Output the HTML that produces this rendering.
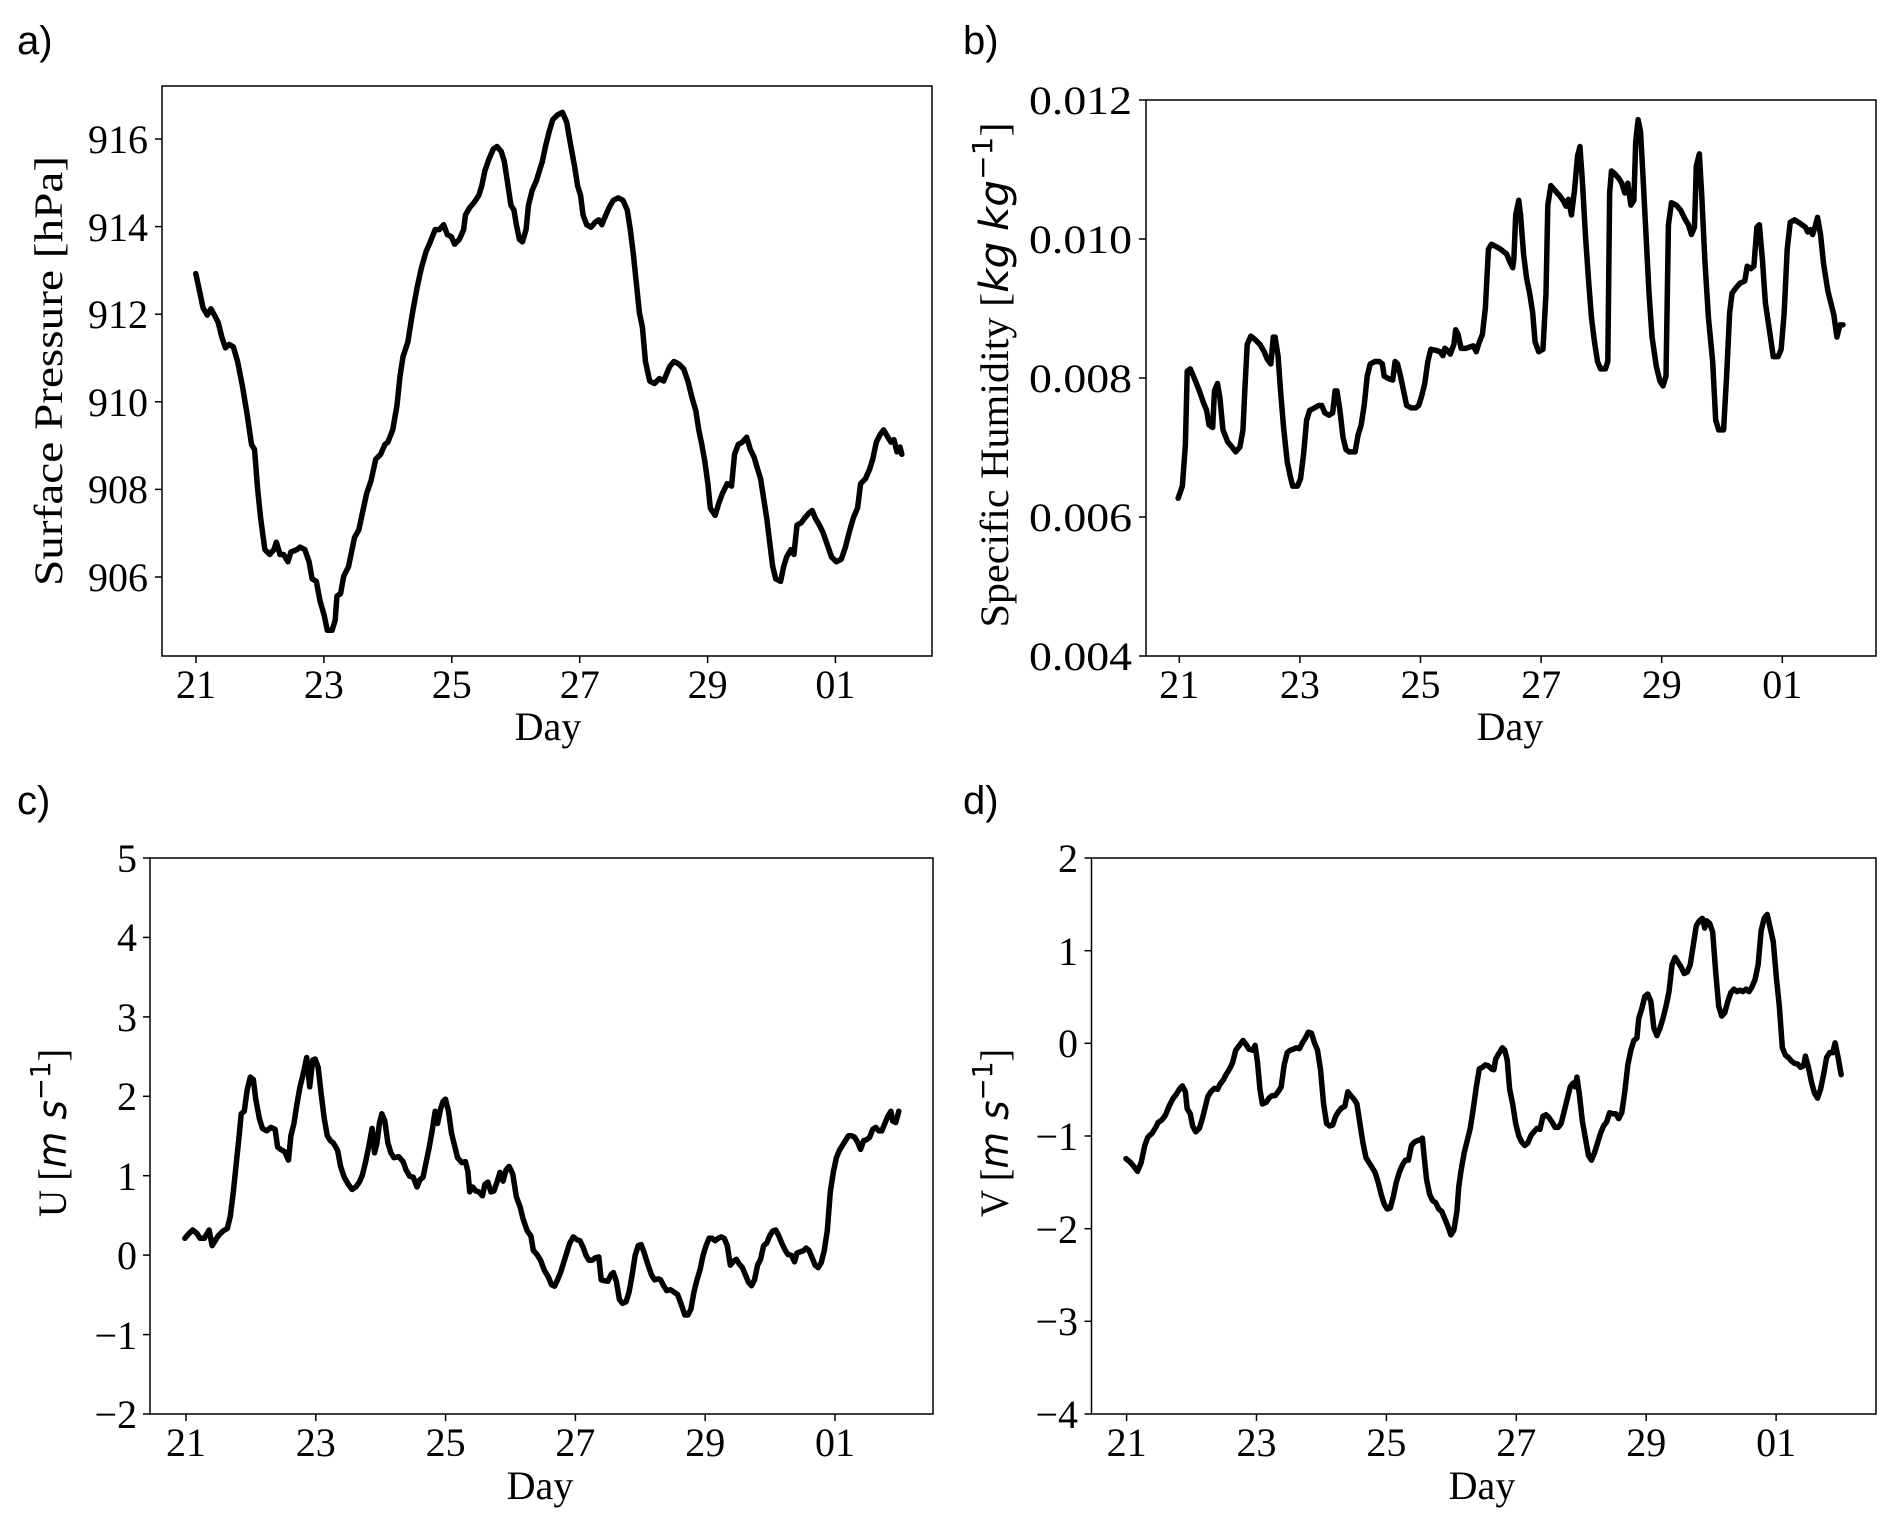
<!DOCTYPE html>
<html><head><meta charset="utf-8"><style>
html,body{margin:0;padding:0;background:#fff}
svg{display:block}
.t{font-family:"Liberation Serif",serif;font-size:40px;fill:#000}
.p{font-family:"Liberation Sans",sans-serif;font-size:40px;fill:#000}
.d{fill:none;stroke:#000;stroke-width:5.5;stroke-linejoin:round;stroke-linecap:round}
.f{fill:none;stroke:#000;stroke-width:1.5}
.k{stroke:#000;stroke-width:1.5}
</style></head><body>
<svg width="1892" height="1525" viewBox="0 0 1892 1525" xmlns="http://www.w3.org/2000/svg">
<!-- Panel a -->
<text class="p" x="17" y="54">a)</text>
<rect class="f" x="162" y="86" width="770" height="570"/>
<g class="k">
<line x1="196" y1="656" x2="196" y2="663"/><line x1="323.9" y1="656" x2="323.9" y2="663"/><line x1="451.8" y1="656" x2="451.8" y2="663"/><line x1="579.7" y1="656" x2="579.7" y2="663"/><line x1="707.6" y1="656" x2="707.6" y2="663"/><line x1="835.4" y1="656" x2="835.4" y2="663"/>
<line x1="155" y1="577" x2="162" y2="577"/><line x1="155" y1="489.4" x2="162" y2="489.4"/><line x1="155" y1="401.8" x2="162" y2="401.8"/><line x1="155" y1="314.2" x2="162" y2="314.2"/><line x1="155" y1="226.6" x2="162" y2="226.6"/><line x1="155" y1="139" x2="162" y2="139"/>
</g>
<g class="t" text-anchor="middle">
<text x="196" y="698">21</text><text x="323.9" y="698">23</text><text x="451.8" y="698">25</text><text x="579.7" y="698">27</text><text x="707.6" y="698">29</text><text x="835.4" y="698">01</text>
<text x="548" y="740">Day</text>
</g>
<g class="t" text-anchor="end">
<text x="148" y="591">906</text><text x="148" y="503">908</text><text x="148" y="416">910</text><text x="148" y="328">912</text><text x="148" y="241">914</text><text x="148" y="153">916</text>
</g>
<text class="t" text-anchor="middle" transform="translate(62,371) rotate(-90)" textLength="430" lengthAdjust="spacingAndGlyphs">Surface Pressure [hPa]</text>
<g transform="translate(0,0) scale(0.60606,0.48852)">
<polyline class="d" vector-effect="non-scaling-stroke" points="323,560 330,600 335,630 342,645 348,632 355,648 360,660 366,690 372,712 378,705 385,710 392,740 400,790 408,850 415,910 420,920 425,1000 430,1060 437,1125 445,1135 452,1125 456,1110 462,1135 468,1135 475,1150 480,1130 490,1125 495,1120 503,1125 510,1150 515,1185 522,1190 528,1230 535,1260 540,1290 548,1290 553,1270 556,1220 562,1215 567,1180 575,1160 580,1130 585,1100 592,1085 598,1050 605,1010 612,985 620,940 628,930 635,910 640,905 648,880 655,830 660,770 665,730 673,700 680,645 688,590 695,550 703,515 710,495 718,470 725,470 732,460 738,480 745,485 750,500 758,490 765,470 768,440 775,425 782,415 790,400 795,380 800,350 807,325 814,305 820,300 827,310 832,330 837,370 843,420 848,430 852,460 857,490 862,495 868,470 872,420 878,390 885,370 890,350 895,330 900,300 906,270 912,245 920,235 928,230 935,250 942,300 948,340 953,380 958,400 962,440 968,460 975,465 982,455 988,450 993,460 998,445 1005,425 1012,410 1020,405 1028,410 1035,430 1040,470 1045,520 1050,580 1055,640 1060,670 1065,740 1072,780 1080,785 1088,775 1095,780 1100,765 1105,750 1112,740 1120,745 1128,755 1135,780 1142,815 1148,840 1153,880 1158,910 1163,945 1168,990 1172,1040 1180,1055 1186,1030 1192,1010 1200,990 1207,995 1212,930 1218,910 1225,905 1232,895 1238,920 1244,935 1250,960 1255,980 1260,1020 1265,1060 1270,1110 1275,1160 1280,1185 1288,1190 1293,1160 1298,1140 1305,1125 1310,1135 1315,1075 1322,1070 1328,1060 1335,1050 1340,1045 1345,1060 1352,1075 1358,1090 1365,1115 1372,1140 1380,1150 1388,1145 1395,1120 1400,1095 1408,1060 1415,1040 1420,990 1428,980 1435,960 1440,940 1446,905 1452,890 1458,880 1465,895 1470,905 1475,900 1480,925 1485,915 1488,930"/>
</g>

<!-- Panel b -->
<text class="p" x="963" y="54">b)</text>
<rect class="f" x="1146" y="100" width="730" height="556"/>
<g class="k">
<line x1="1179.3" y1="656" x2="1179.3" y2="663"/><line x1="1299.9" y1="656" x2="1299.9" y2="663"/><line x1="1420.5" y1="656" x2="1420.5" y2="663"/><line x1="1541.1" y1="656" x2="1541.1" y2="663"/><line x1="1661.7" y1="656" x2="1661.7" y2="663"/><line x1="1782.3" y1="656" x2="1782.3" y2="663"/>
<line x1="1139" y1="100" x2="1146" y2="100"/><line x1="1139" y1="239" x2="1146" y2="239"/><line x1="1139" y1="378" x2="1146" y2="378"/><line x1="1139" y1="517" x2="1146" y2="517"/><line x1="1139" y1="656" x2="1146" y2="656"/>
</g>
<g class="t" text-anchor="middle">
<text x="1179.3" y="698">21</text><text x="1299.9" y="698">23</text><text x="1420.5" y="698">25</text><text x="1541.1" y="698">27</text><text x="1661.7" y="698">29</text><text x="1782.3" y="698">01</text>
<text x="1510" y="740">Day</text>
</g>
<g class="t" text-anchor="end">
<text x="1132" y="114" textLength="103" lengthAdjust="spacingAndGlyphs">0.012</text><text x="1132" y="253" textLength="103" lengthAdjust="spacingAndGlyphs">0.010</text><text x="1132" y="392" textLength="103" lengthAdjust="spacingAndGlyphs">0.008</text><text x="1132" y="531" textLength="103" lengthAdjust="spacingAndGlyphs">0.006</text><text x="1132" y="670" textLength="103" lengthAdjust="spacingAndGlyphs">0.004</text>
</g>
<text class="t" text-anchor="middle" transform="translate(1008,375) rotate(-90)" textLength="505" lengthAdjust="spacingAndGlyphs">Specific Humidity [<tspan font-family="DejaVu Sans,sans-serif" font-style="italic">kg</tspan> <tspan font-family="DejaVu Sans,sans-serif" font-style="italic">kg</tspan><tspan font-size="28" dy="-16" font-family="DejaVu Sans,sans-serif">−1</tspan><tspan dy="16">]</tspan></text>
<g transform="translate(946,0) scale(0.60606,0.48852)">
<polyline class="d" vector-effect="non-scaling-stroke" points="383,1020 390,995 395,910 398,760 403,755 410,775 418,800 425,825 430,840 434,870 440,875 443,800 448,785 452,815 457,880 465,905 472,915 478,925 485,915 490,880 493,800 497,705 503,688 510,695 518,705 525,720 530,735 536,745 540,690 543,690 548,730 552,800 557,875 563,945 568,975 572,995 580,995 585,980 590,930 595,860 600,840 608,835 615,830 620,830 625,845 632,850 638,845 642,800 645,800 650,840 655,895 660,920 665,925 670,925 675,925 680,890 685,870 690,830 695,770 700,745 708,740 715,740 720,745 723,770 730,775 737,778 741,740 745,745 750,770 755,800 760,830 768,835 775,835 780,830 785,810 790,785 795,740 800,715 808,717 815,720 820,728 823,713 828,718 832,725 838,705 841,675 845,685 850,713 858,713 865,710 870,708 875,720 880,700 885,685 890,630 895,510 900,500 908,505 915,510 920,515 925,520 930,535 935,548 937,530 940,440 945,410 948,440 953,520 958,570 963,600 968,640 972,700 978,720 985,715 990,600 993,420 998,380 1005,390 1012,400 1018,410 1023,422 1027,408 1032,440 1037,390 1042,320 1046,300 1050,370 1055,480 1060,570 1065,650 1070,700 1075,740 1080,755 1088,755 1092,740 1095,395 1098,350 1103,355 1110,365 1115,375 1120,395 1125,375 1130,420 1135,410 1138,290 1142,245 1146,270 1150,360 1155,480 1160,600 1165,690 1172,750 1178,780 1183,790 1188,770 1192,460 1197,415 1205,420 1212,430 1220,450 1225,460 1230,480 1235,465 1238,340 1243,315 1247,400 1252,530 1258,650 1265,740 1270,860 1275,880 1283,880 1288,770 1293,640 1297,600 1303,590 1310,580 1318,575 1322,545 1328,550 1333,545 1338,465 1342,460 1347,530 1352,620 1358,670 1365,730 1373,730 1378,715 1383,640 1388,510 1393,455 1400,450 1410,458 1418,465 1422,475 1426,470 1430,480 1435,460 1438,445 1443,480 1448,540 1455,595 1460,620 1465,645 1470,690 1475,665 1480,665"/>
</g>

<!-- Panel c -->
<text class="p" x="17" y="814">c)</text>
<rect class="f" x="150" y="858" width="783" height="556"/>
<g class="k">
<line x1="186" y1="1414" x2="186" y2="1421"/><line x1="315.8" y1="1414" x2="315.8" y2="1421"/><line x1="445.6" y1="1414" x2="445.6" y2="1421"/><line x1="575.4" y1="1414" x2="575.4" y2="1421"/><line x1="705.2" y1="1414" x2="705.2" y2="1421"/><line x1="835" y1="1414" x2="835" y2="1421"/>
<line x1="143" y1="858" x2="150" y2="858"/><line x1="143" y1="937.4" x2="150" y2="937.4"/><line x1="143" y1="1016.9" x2="150" y2="1016.9"/><line x1="143" y1="1096.3" x2="150" y2="1096.3"/><line x1="143" y1="1175.7" x2="150" y2="1175.7"/><line x1="143" y1="1255.1" x2="150" y2="1255.1"/><line x1="143" y1="1334.6" x2="150" y2="1334.6"/><line x1="143" y1="1414" x2="150" y2="1414"/>
</g>
<g class="t" text-anchor="middle">
<text x="186" y="1456">21</text><text x="315.8" y="1456">23</text><text x="445.6" y="1456">25</text><text x="575.4" y="1456">27</text><text x="705.2" y="1456">29</text><text x="835" y="1456">01</text>
<text x="540" y="1499">Day</text>
</g>
<g class="t" text-anchor="end">
<text x="137" y="872">5</text><text x="137" y="951">4</text><text x="137" y="1031">3</text><text x="137" y="1110">2</text><text x="137" y="1190">1</text><text x="137" y="1269">0</text><text x="137" y="1349">−1</text><text x="137" y="1428">−2</text>
</g>
<text class="t" text-anchor="middle" transform="translate(66,1133) rotate(-90)" textLength="168" lengthAdjust="spacingAndGlyphs">U [<tspan font-family="DejaVu Sans,sans-serif" font-style="italic">m s</tspan><tspan font-size="28" dy="-16" font-family="DejaVu Sans,sans-serif">−1</tspan><tspan dy="16">]</tspan></text>
<g transform="translate(0,762) scale(0.60606,0.48852)">
<polyline class="d" vector-effect="non-scaling-stroke" points="305,975 312,965 318,958 325,965 330,975 337,975 345,958 350,990 355,980 360,970 368,960 375,955 380,930 385,880 390,820 395,760 398,720 403,715 408,670 413,645 418,650 422,690 428,730 433,750 440,755 447,748 454,752 458,788 463,793 470,798 476,815 480,765 485,740 490,700 495,665 500,640 506,605 511,665 516,610 520,608 525,625 530,680 535,730 540,765 545,775 550,780 557,795 562,828 568,850 575,865 581,875 587,870 593,860 598,845 603,820 608,790 614,750 618,800 622,780 626,740 630,720 635,735 640,780 645,800 650,810 658,808 665,818 670,835 676,848 682,850 688,870 693,855 698,850 703,820 708,790 713,755 718,715 722,740 727,710 731,695 735,690 740,715 745,760 750,785 755,810 762,820 768,818 772,838 775,880 780,870 785,878 790,880 796,888 800,865 805,860 810,880 815,878 820,860 825,840 830,858 835,835 840,828 846,843 852,890 858,910 863,935 870,960 876,970 880,1000 886,1008 892,1020 898,1040 905,1055 910,1070 915,1073 920,1060 925,1045 930,1025 935,1005 940,985 946,972 952,978 957,980 962,993 967,1010 972,1020 977,1020 982,1015 988,1013 992,1060 998,1062 1003,1063 1008,1050 1012,1045 1017,1063 1022,1100 1027,1108 1033,1105 1038,1085 1043,1050 1048,1010 1053,990 1058,988 1063,1005 1068,1025 1075,1050 1080,1060 1086,1058 1090,1060 1095,1072 1100,1082 1106,1080 1112,1085 1118,1090 1124,1110 1130,1132 1135,1132 1140,1120 1145,1085 1150,1060 1155,1040 1160,1010 1165,990 1170,975 1175,975 1180,980 1185,975 1190,972 1195,975 1200,990 1205,1030 1210,1022 1215,1018 1220,1028 1225,1035 1230,1050 1235,1065 1240,1072 1245,1060 1250,1030 1255,1018 1260,990 1265,985 1270,970 1275,960 1280,958 1285,970 1290,985 1295,998 1300,1008 1306,1010 1311,1023 1315,1005 1320,1003 1326,1000 1330,995 1335,1000 1340,1015 1345,1030 1350,1035 1355,1025 1360,1000 1365,960 1370,880 1375,840 1380,810 1385,795 1390,785 1395,775 1400,765 1405,765 1410,768 1415,778 1420,793 1425,775 1430,773 1435,768 1440,752 1445,748 1450,755 1455,755 1460,740 1465,725 1470,715 1473,735 1478,738 1483,715"/>
</g>

<!-- Panel d -->
<text class="p" x="963" y="814">d)</text>
<rect class="f" x="1091.5" y="858" width="784.5" height="556"/>
<g class="k">
<line x1="1126.6" y1="1414" x2="1126.6" y2="1421"/><line x1="1256.5" y1="1414" x2="1256.5" y2="1421"/><line x1="1386.4" y1="1414" x2="1386.4" y2="1421"/><line x1="1516.3" y1="1414" x2="1516.3" y2="1421"/><line x1="1646.2" y1="1414" x2="1646.2" y2="1421"/><line x1="1776.1" y1="1414" x2="1776.1" y2="1421"/>
<line x1="1084.5" y1="858" x2="1091.5" y2="858"/><line x1="1084.5" y1="950.7" x2="1091.5" y2="950.7"/><line x1="1084.5" y1="1043.3" x2="1091.5" y2="1043.3"/><line x1="1084.5" y1="1136" x2="1091.5" y2="1136"/><line x1="1084.5" y1="1228.7" x2="1091.5" y2="1228.7"/><line x1="1084.5" y1="1321.3" x2="1091.5" y2="1321.3"/><line x1="1084.5" y1="1414" x2="1091.5" y2="1414"/>
</g>
<g class="t" text-anchor="middle">
<text x="1126.6" y="1456">21</text><text x="1256.5" y="1456">23</text><text x="1386.4" y="1456">25</text><text x="1516.3" y="1456">27</text><text x="1646.2" y="1456">29</text><text x="1776.1" y="1456">01</text>
<text x="1482" y="1499">Day</text>
</g>
<g class="t" text-anchor="end">
<text x="1078" y="872">2</text><text x="1078" y="965">1</text><text x="1078" y="1057">0</text><text x="1078" y="1150">−1</text><text x="1078" y="1243">−2</text><text x="1078" y="1335">−3</text><text x="1078" y="1428">−4</text>
</g>
<text class="t" text-anchor="middle" transform="translate(1008,1133) rotate(-90)" textLength="168" lengthAdjust="spacingAndGlyphs">V [<tspan font-family="DejaVu Sans,sans-serif" font-style="italic">m s</tspan><tspan font-size="28" dy="-16" font-family="DejaVu Sans,sans-serif">−1</tspan><tspan dy="16">]</tspan></text>
<g transform="translate(946,762) scale(0.60606,0.48852)">
<polyline class="d" vector-effect="non-scaling-stroke" points="297,812 303,818 310,828 316,838 322,820 328,785 333,768 340,760 346,748 350,738 356,733 362,723 368,705 374,690 380,680 386,668 390,663 395,675 398,710 403,720 407,745 412,757 418,750 423,730 428,705 432,685 437,675 443,668 448,670 452,660 458,650 462,640 468,628 473,615 478,590 484,580 490,570 495,578 500,588 506,590 510,580 514,615 518,670 522,700 528,697 533,688 538,683 543,683 548,675 553,665 558,620 563,595 568,590 573,588 578,585 583,587 588,575 593,565 598,553 603,555 608,575 613,590 618,630 623,700 628,740 633,745 638,743 643,725 648,715 653,708 658,705 663,675 668,683 673,690 678,700 683,740 688,780 693,810 698,820 703,830 708,840 713,860 718,885 723,905 728,915 733,913 738,890 743,860 748,840 753,825 758,815 763,815 768,785 773,778 778,775 783,773 786,770 790,820 793,855 798,885 803,898 808,902 813,915 818,920 823,935 828,950 833,968 838,958 843,920 846,870 850,835 855,800 860,775 865,750 870,710 875,665 880,628 885,625 890,620 895,622 900,628 904,630 907,608 912,597 918,585 922,590 926,610 930,670 935,700 940,740 945,765 950,778 955,785 960,780 965,765 970,757 975,750 980,752 985,725 990,722 995,728 1000,737 1005,748 1010,748 1015,740 1020,715 1025,690 1030,665 1035,657 1038,665 1041,645 1045,680 1050,735 1055,770 1060,805 1065,815 1070,800 1075,780 1080,760 1085,745 1090,737 1095,718 1100,720 1105,720 1110,730 1115,718 1120,675 1125,620 1130,590 1135,570 1140,565 1143,525 1148,505 1153,480 1158,475 1163,490 1168,545 1173,560 1178,545 1183,525 1188,500 1193,470 1198,415 1203,400 1208,410 1213,420 1218,433 1223,430 1228,415 1233,375 1238,335 1243,325 1248,320 1252,340 1255,325 1260,330 1265,348 1270,430 1275,500 1280,520 1285,513 1290,490 1295,472 1300,465 1305,470 1310,467 1315,470 1320,465 1325,470 1330,460 1335,445 1340,415 1345,345 1350,320 1355,312 1360,340 1365,368 1370,440 1375,500 1380,585 1385,600 1390,605 1395,612 1400,617 1405,618 1410,625 1415,622 1418,602 1423,625 1428,655 1433,678 1438,688 1443,670 1448,640 1453,605 1458,595 1463,595 1467,575 1472,605 1477,640"/>
</g>
</svg>
</body></html>
